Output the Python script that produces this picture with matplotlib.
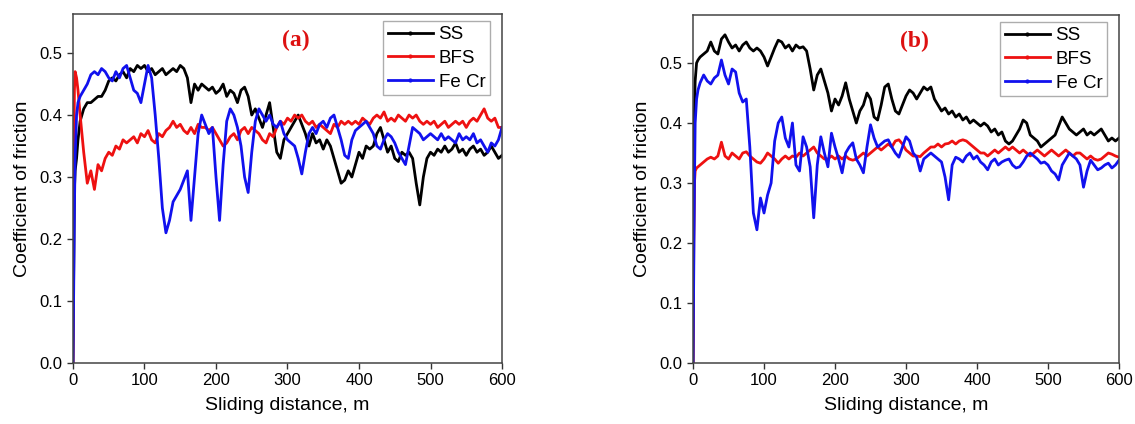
import numpy as np
import matplotlib
matplotlib.use("Agg")
import matplotlib.pyplot as plt
from matplotlib.lines import Line2D

plt.rcParams['font.family'] = ['Liberation Sans', 'DejaVu Sans']

# sampling positions (m): a few points for the run-in, then every 5 m
dist = np.concatenate([[0, 1, 2, 3, 5, 7], np.arange(10, 601, 5)])

labels = ["SS", "BFS", "Fe Cr"]
colors = ["#000000", "#ee1111", "#1111ee"]

# ---- panel (a) ----
ss_a = [0.0, 0.15, 0.28, 0.31, 0.33, 0.36,
        0.39, 0.41, 0.42, 0.42, 0.425, 0.43, 0.43, 0.44, 0.455, 0.46,
        0.455, 0.465, 0.47, 0.46, 0.475, 0.47, 0.48, 0.475, 0.48, 0.47,
        0.475, 0.465, 0.47, 0.475, 0.465, 0.47, 0.475, 0.47, 0.48, 0.475,
        0.46, 0.42, 0.45, 0.44, 0.45, 0.445, 0.44, 0.445, 0.435, 0.44,
        0.45, 0.43, 0.44, 0.435, 0.42, 0.44, 0.445, 0.43, 0.40, 0.41,
        0.395, 0.38, 0.40, 0.42, 0.38, 0.34, 0.33, 0.36, 0.37, 0.38,
        0.39, 0.40, 0.385, 0.37, 0.35, 0.37, 0.355, 0.36, 0.345, 0.36,
        0.35, 0.33, 0.31, 0.29, 0.295, 0.31, 0.30, 0.32, 0.34, 0.33,
        0.35, 0.345, 0.35, 0.37, 0.38, 0.36, 0.34, 0.35, 0.33, 0.325,
        0.34, 0.335, 0.34, 0.33, 0.29, 0.255, 0.30, 0.33, 0.34, 0.335,
        0.345, 0.34, 0.35, 0.34, 0.345, 0.355, 0.34, 0.345, 0.335, 0.345,
        0.35, 0.34, 0.345, 0.335, 0.34, 0.35, 0.34, 0.33, 0.335]

bfs_a = [0.0, 0.30, 0.44, 0.47, 0.46, 0.44,
         0.40, 0.34, 0.29, 0.31, 0.28, 0.32, 0.31, 0.33, 0.34, 0.335,
         0.35, 0.345, 0.36, 0.355, 0.36, 0.365, 0.355, 0.37, 0.365, 0.375,
         0.36, 0.355, 0.37, 0.365, 0.375, 0.38, 0.39, 0.38, 0.385, 0.375,
         0.37, 0.38, 0.37, 0.385, 0.38, 0.38, 0.375, 0.38, 0.37, 0.36,
         0.35, 0.355, 0.365, 0.37, 0.36, 0.375, 0.38, 0.37, 0.38, 0.375,
         0.37, 0.36, 0.355, 0.37, 0.365, 0.38, 0.39, 0.385, 0.395, 0.39,
         0.40, 0.395, 0.40, 0.39, 0.385, 0.39, 0.38, 0.385, 0.38, 0.375,
         0.37, 0.385, 0.38, 0.39, 0.385, 0.39, 0.385, 0.39, 0.385, 0.395,
         0.39, 0.385, 0.395, 0.40, 0.395, 0.405, 0.39, 0.395, 0.39, 0.40,
         0.395, 0.39, 0.40, 0.395, 0.40, 0.39, 0.385, 0.39, 0.385, 0.39,
         0.38, 0.385, 0.39, 0.38, 0.385, 0.39, 0.385, 0.39, 0.38, 0.39,
         0.395, 0.39, 0.40, 0.41, 0.395, 0.39, 0.395, 0.38, 0.38]

fecr_a = [0.0, 0.12, 0.25, 0.33, 0.40, 0.42,
          0.43, 0.44, 0.45, 0.465, 0.47, 0.465, 0.475, 0.47, 0.46, 0.455,
          0.47, 0.46, 0.475, 0.48, 0.46, 0.44, 0.435, 0.42, 0.45, 0.48,
          0.46, 0.40, 0.33, 0.25, 0.21, 0.23, 0.26, 0.27, 0.28, 0.295,
          0.31, 0.23, 0.30, 0.37, 0.40, 0.385, 0.37, 0.38, 0.30, 0.23,
          0.32, 0.39, 0.41, 0.40, 0.38, 0.35, 0.30, 0.275, 0.34, 0.39,
          0.41, 0.40, 0.39, 0.40, 0.385, 0.38, 0.39, 0.37, 0.36, 0.355,
          0.35, 0.33, 0.305, 0.34, 0.37, 0.38, 0.37, 0.385, 0.39, 0.38,
          0.395, 0.40, 0.38, 0.36, 0.335, 0.33, 0.36, 0.375, 0.38, 0.385,
          0.39, 0.38, 0.37, 0.35, 0.345, 0.36, 0.37, 0.365, 0.355, 0.34,
          0.33, 0.32, 0.35, 0.38, 0.375, 0.37, 0.36, 0.365, 0.37, 0.365,
          0.36, 0.37, 0.36, 0.365, 0.36, 0.355, 0.37, 0.36, 0.365, 0.36,
          0.37, 0.355, 0.36, 0.35, 0.34, 0.355, 0.35, 0.36, 0.38]

# ---- panel (b) ----
ss_b = [0.0, 0.25, 0.42, 0.47, 0.50, 0.505,
        0.51, 0.515, 0.52, 0.535, 0.52, 0.515, 0.54, 0.547, 0.535, 0.525,
        0.53, 0.52, 0.53, 0.535, 0.525, 0.52, 0.525, 0.52, 0.51, 0.495,
        0.51, 0.525, 0.538, 0.535, 0.525, 0.53, 0.52, 0.53, 0.525, 0.527,
        0.52, 0.49, 0.455, 0.48, 0.49, 0.47, 0.45, 0.42, 0.44, 0.43,
        0.445, 0.467, 0.44, 0.42, 0.40, 0.42, 0.43, 0.45, 0.44, 0.41,
        0.405, 0.43, 0.46, 0.465, 0.44, 0.42, 0.415, 0.43, 0.445, 0.455,
        0.45, 0.44, 0.45, 0.46, 0.455, 0.46, 0.44, 0.43, 0.42, 0.425,
        0.415, 0.42, 0.41, 0.415, 0.405, 0.41, 0.40, 0.405, 0.40, 0.395,
        0.40, 0.395, 0.385, 0.39, 0.38, 0.385, 0.37, 0.365, 0.37, 0.38,
        0.39, 0.405, 0.40, 0.38, 0.375, 0.37, 0.36, 0.365, 0.37, 0.375,
        0.38, 0.395, 0.41, 0.40, 0.39, 0.385, 0.38, 0.385, 0.39, 0.38,
        0.385, 0.38, 0.385, 0.39, 0.38, 0.37, 0.375, 0.37, 0.375]

bfs_b = [0.0, 0.20, 0.30, 0.32, 0.325, 0.327,
         0.33, 0.335, 0.34, 0.343, 0.34, 0.345, 0.368, 0.345, 0.34, 0.35,
         0.345, 0.34, 0.35, 0.352, 0.345, 0.34, 0.335, 0.333, 0.34, 0.35,
         0.345, 0.34, 0.333, 0.34, 0.345, 0.34, 0.345, 0.343, 0.35, 0.345,
         0.35, 0.355, 0.36, 0.35, 0.345, 0.34, 0.34, 0.345, 0.34, 0.345,
         0.34, 0.345, 0.34, 0.338, 0.34, 0.345, 0.35, 0.345, 0.35, 0.355,
         0.36, 0.355, 0.36, 0.365, 0.36, 0.37, 0.372, 0.365, 0.355, 0.35,
         0.345, 0.345, 0.344, 0.35, 0.355, 0.36, 0.36, 0.365, 0.36, 0.365,
         0.366, 0.37, 0.365, 0.37, 0.372, 0.37, 0.365, 0.36, 0.355, 0.35,
         0.35, 0.345, 0.35, 0.355, 0.35, 0.355, 0.36, 0.355, 0.36, 0.355,
         0.35, 0.355, 0.35, 0.345, 0.35, 0.355, 0.35, 0.345, 0.35, 0.355,
         0.35, 0.345, 0.35, 0.355, 0.35, 0.345, 0.35, 0.35, 0.345, 0.34,
         0.345, 0.34, 0.338, 0.34, 0.345, 0.35, 0.348, 0.345, 0.343]

fecr_b = [0.0, 0.15, 0.30, 0.40, 0.44, 0.455,
          0.467, 0.48, 0.47, 0.465, 0.475, 0.48, 0.505, 0.48, 0.465, 0.49,
          0.485, 0.45, 0.435, 0.44, 0.36, 0.25, 0.222, 0.275, 0.25, 0.28,
          0.30, 0.37, 0.40, 0.41, 0.375, 0.36, 0.40, 0.33, 0.32, 0.377,
          0.36, 0.327, 0.242, 0.33, 0.377, 0.35, 0.327, 0.383, 0.36, 0.34,
          0.317, 0.35, 0.36, 0.367, 0.34, 0.33, 0.317, 0.36, 0.397, 0.375,
          0.36, 0.365, 0.37, 0.372, 0.36, 0.35, 0.343, 0.36, 0.377, 0.37,
          0.35, 0.343, 0.32, 0.34, 0.345, 0.35, 0.345, 0.34, 0.335, 0.31,
          0.272, 0.33, 0.343, 0.34, 0.335, 0.345, 0.35, 0.34, 0.345, 0.335,
          0.33, 0.322, 0.335, 0.34, 0.33, 0.335, 0.338, 0.34, 0.33, 0.325,
          0.327, 0.335, 0.345, 0.35, 0.345, 0.34, 0.333, 0.335, 0.33, 0.32,
          0.315, 0.305, 0.33, 0.34, 0.35, 0.345, 0.34, 0.33, 0.293, 0.32,
          0.338, 0.33, 0.322, 0.325, 0.33, 0.333, 0.325, 0.33, 0.338]

panels = [
    ("(a)", [ss_a, bfs_a, fecr_a], [0.0643, 0.1439, 0.3780, 0.8231], 0.563),
    ("(b)", [ss_b, bfs_b, fecr_b], [0.6106, 0.1439, 0.3753, 0.8207], 0.58),
]

fig = plt.figure(figsize=(11.35, 4.24), dpi=100)

for tag, series, rect, ytop in panels:
    ax = fig.add_axes(rect)
    for y, c in zip(series, colors):
        ax.plot(dist, y, color=c, lw=2.0)
    ax.set_xlim(0, 600)
    ax.set_ylim(0, ytop)
    ax.set_xticks([0, 100, 200, 300, 400, 500, 600])
    ax.set_yticks([0.0, 0.1, 0.2, 0.3, 0.4, 0.5])
    ax.set_yticklabels(["0.0", "0.1", "0.2", "0.3", "0.4", "0.5"])
    ax.tick_params(direction='out', length=4, width=1, labelsize=12, color='#333333')
    for sp in ax.spines.values():
        sp.set_color('#444444')
        sp.set_linewidth(1.1)
    ax.set_xlabel("Sliding distance, m", fontsize=14, labelpad=6)
    ax.set_ylabel("Coefficient of friction", fontsize=14, labelpad=6)
    ax.text(0.52, 0.925, tag, transform=ax.transAxes, ha='center', va='center',
            fontsize=17, fontweight='bold', color='#dd1111', family='Liberation Serif')
    handles = [Line2D([0], [0], color=c, lw=2.0, marker='o', markersize=2,
                      markevery=[1]) for c in colors]
    for h in handles:
        h.set_xdata([0, 0.5, 1])
        h.set_ydata([0, 0, 0])
    leg = ax.legend(handles, labels, loc='upper right', fontsize=13.5, frameon=True,
                    fancybox=False, edgecolor='#999999', handlelength=2.4,
                    handletextpad=0.3, borderpad=0.25, labelspacing=0.35,
                    borderaxespad=0.3, bbox_to_anchor=(0.985, 0.995))
    leg.get_frame().set_linewidth(1.0)

fig.savefig("out.png", dpi=100)
